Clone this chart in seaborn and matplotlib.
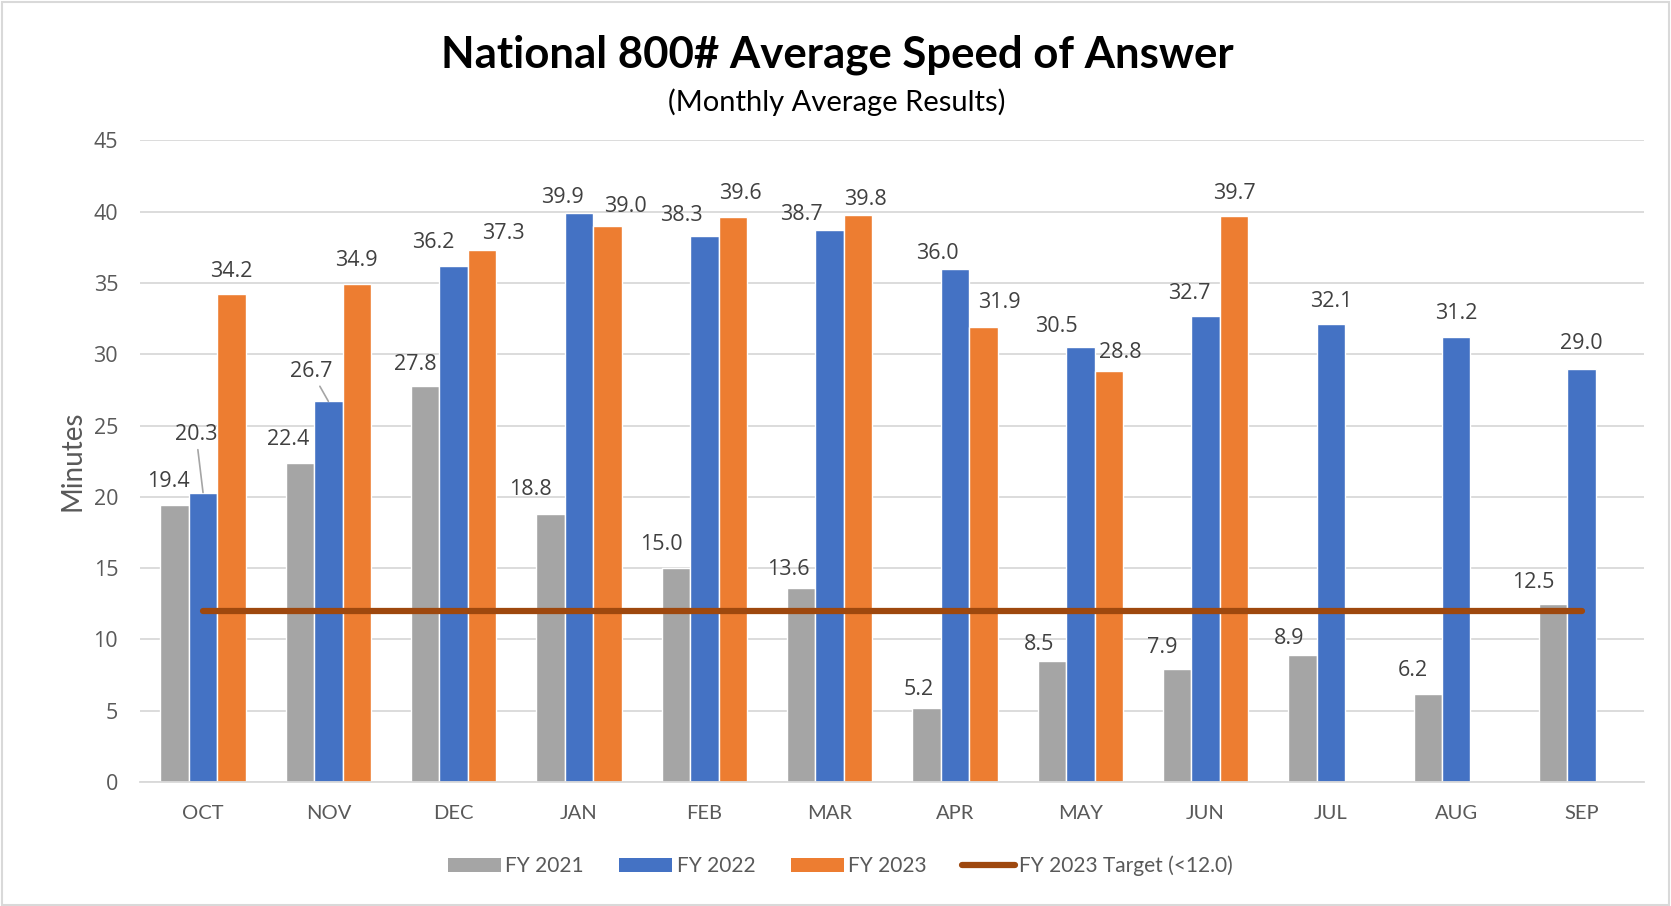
import numpy as np
import pandas as pd
import seaborn as sns
import matplotlib.pyplot as plt
from matplotlib.patches import Patch
from matplotlib.lines import Line2D

# Chart data
months = ['OCT', 'NOV', 'DEC', 'JAN', 'FEB', 'MAR', 'APR', 'MAY', 'JUN', 'JUL', 'AUG', 'SEP']
fy2021 = [19.4, 22.4, 27.8, 18.8, 15.0, 13.6, 5.2, 8.5, 7.9, 8.9, 6.2, 12.5]
fy2022 = [20.3, 26.7, 36.2, 39.9, 38.3, 38.7, 36.0, 30.5, 32.7, 32.1, 31.2, 29.0]
fy2023 = [34.2, 34.9, 37.3, 39.0, 39.6, 39.8, 31.9, 28.8, 39.7, np.nan, np.nan, np.nan]
target = [12.0] * len(months)
series_names = ['FY 2021', 'FY 2022', 'FY 2023']
target_name = 'FY 2023 Target (<12.0)'

# data label nudges in pixels: (dx from bar centre, label centre above bar top)
label_offsets = {
    'FY 2021': [(-6.5, 24), (-12, 23), (-9.5, 21), (-20.5, 24), (-14.5, 24), (-12.5, 19),
                (-7.5, 18.5), (-12.5, 16.5), (-15, 21.5), (-13, 17), (-15.5, 23), (-20, 21.5)],
    'FY 2022': [(-7, 58), (-17, 30), (-20.5, 23.5), (-16.5, 16), (-23, 20), (-28, 15.5),
                (-18, 15), (-24, 21), (-16, 22), (0, 22.5), (0, 23.5), (0, 25)],
    'FY 2023': [(0, 22.5), (0, 23.5), (21, 16.5), (18, 19.5), (7.5, 23.5), (7, 15),
                (15.5, 25), (11.5, 18.5), (0, 22.5), (0, 0), (0, 0), (0, 0)],
}
leader_lines = {('FY 2022', 'OCT'), ('FY 2022', 'NOV')}

colors = ['#A5A5A5', '#4472C4', '#ED7D31']
target_color = '#9E480E'
text_color = '#404040'
tick_color = '#595959'

df = pd.DataFrame({
    'month': months * 3,
    'minutes': fy2021 + fy2022 + fy2023,
    'series': np.repeat(series_names, len(months)),
})

sns.set_theme(style='white')
plt.rcParams['font.family'] = ['Open Sans', 'DejaVu Sans']

fig = plt.figure(figsize=(16.71, 9.06), dpi=100)
ax = fig.add_axes([0.084, 0.137, 0.9, 0.708])

sns.barplot(data=df, x='month', y='minutes', hue='series', order=months,
            hue_order=series_names, palette=colors, saturation=1,
            width=0.68, gap=0, errorbar=None, ax=ax, legend=False, zorder=2)

ax.plot(range(len(months)), target, color=target_color, lw=4.5,
        solid_capstyle='round', zorder=3)

# data labels
for cont, name in zip(ax.containers, series_names):
    vals = df[df.series == name]['minutes'].tolist()
    offs = label_offsets[name]
    for bar, v, m, (dx, dy) in zip(cont, vals, months, offs):
        if np.isnan(v):
            continue
        cx = bar.get_x() + bar.get_width() / 2
        top = bar.get_height()
        arrow = None
        if (name, m) in leader_lines:
            arrow = dict(arrowstyle='-', color='#A5A5A5', lw=1.2,
                         shrinkA=1, shrinkB=0)
        ax.annotate(f'{v:.1f}', xy=(cx, top), xytext=(dx, dy),
                    textcoords='offset pixels', ha='center', va='center',
                    fontsize=15.5, color=text_color, arrowprops=arrow,
                    zorder=4)

ax.set_ylim(0, 45)
ax.set_yticks(range(0, 46, 5))
ax.set_xlim(-0.5, len(months) - 0.5)
ax.yaxis.grid(True, color='#D9D9D9', lw=1.3)
ax.set_axisbelow(True)
sns.despine(ax=ax, left=True, bottom=False, top=True, right=True)
ax.spines['bottom'].set_color('#D9D9D9')
ax.spines['bottom'].set_linewidth(1.3)
ax.tick_params(axis='y', length=0, pad=16, labelsize=15.5, labelcolor=tick_color)
ax.tick_params(axis='x', length=0, pad=17, labelsize=14.5, labelcolor=tick_color)
for lbl in ax.get_xticklabels():
    lbl.set_family(['Lato', 'DejaVu Sans'])
ax.set_xlabel('')
ax.set_ylabel('Minutes', fontsize=20, color=tick_color, labelpad=6,
              family=['Lato', 'DejaVu Sans'])

fig.text(0.501, 0.940, 'National 800# Average Speed of Answer', ha='center',
         va='center', fontsize=31.5, fontweight='bold', color='black',
         family=['Lato', 'DejaVu Sans'])
fig.text(0.501, 0.887, '(Monthly Average Results)', ha='center', va='center',
         fontsize=21, color='black', family=['Lato', 'DejaVu Sans'])

handles = [Patch(facecolor=c, edgecolor='none') for c in colors]
handles.append(Line2D([0], [0], color=target_color, lw=4.5, solid_capstyle='round'))
leg = ax.legend(handles, series_names + [target_name], loc='center',
                bbox_to_anchor=(0.503, 0.044), bbox_transform=fig.transFigure,
                ncol=4, frameon=False, handlelength=2.55, handleheight=0.7,
                handletextpad=0.2, columnspacing=1.7,
                prop={'family': ['Lato', 'DejaVu Sans'], 'size': 15})
for t in leg.get_texts():
    t.set_color(tick_color)

fig.patches.append(plt.Rectangle((0.001, 0.001), 0.998, 0.997, transform=fig.transFigure,
                                 fill=False, edgecolor='#D9D9D9', lw=1.5))

fig.savefig('out.png', dpi=100, facecolor='white')
